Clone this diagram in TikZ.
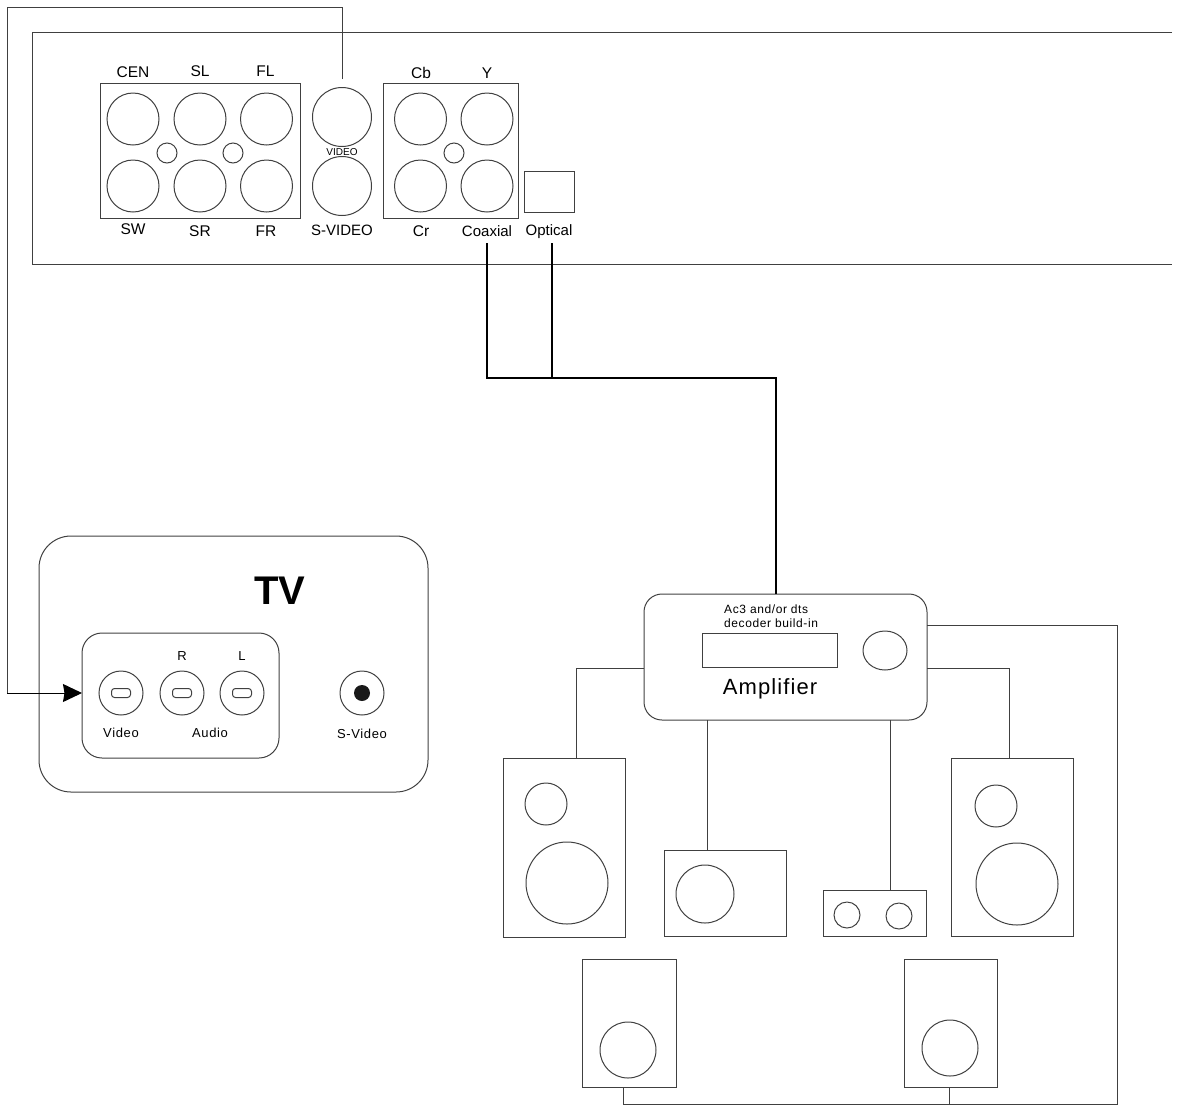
\documentclass[tikz,border=0pt]{standalone}
\usepackage{fontspec}
\setmainfont{Liberation Sans}
\newfontfamily\widefont[LetterSpace=5]{Liberation Sans}
\usetikzlibrary{arrows.meta}
\usetikzlibrary{shapes.geometric}
\tikzset{l/.style={font=\fontsize{15.5}{15.5}\selectfont,inner sep=0pt}}
\tikzset{m/.style={font=\widefont\fontsize{13}{13}\selectfont,inner sep=0pt}}
\tikzset{line/.style={line width=1pt,draw=black!75}}
\tikzset{hole/.style={line,circle,inner sep=0pt,outer sep=0pt}}
\tikzset{box/.style={line,rectangle,inner sep=0pt,outer sep=0pt}}
\tikzset{wire/.style={line width=2pt,draw=black}}

\begin{document}
\begin{tikzpicture}[x=1pt,y=-1pt]
        \useasboundingbox (0,0) rectangle (1178,1112);
        % player back panel
        \coordinate (P1) at (1172,32);
        \coordinate (P2) at (32,32);
        \coordinate (P3) at (32,264);
        \coordinate (P4) at (1172,264);
        \draw [line] (P1) -- (P2) -- (P3) -- (P4);
        \node [box,minimum width=200pt,minimum height=135pt] (A) at (200,150.5) {};
        \node [hole,minimum size=52pt] (CEN) at (133,119) {};
        \node [hole,minimum size=52pt] (SL) at (200,119) {};
        \node [hole,minimum size=52pt] (FL) at (266.5,119) {};
        \node [hole,minimum size=52pt] (SW) at (133,186) {};
        \node [hole,minimum size=52pt] (SR) at (200,186) {};
        \node [hole,minimum size=52pt] (FR) at (266.5,186) {};
        \node [hole,minimum size=20pt] (A1) at (167,153) {};
        \node [hole,minimum size=20pt] (A2) at (233,153) {};
        \node [hole,minimum size=59pt] (V) at (342,117) {};
        \node [hole,minimum size=59pt] (S) at (342,186) {};
        \node [box,minimum width=135pt,minimum height=135pt] (B) at (450.5,150.5) {};
        \node [hole,minimum size=52pt] (Cb) at (420.5,119) {};
        \node [hole,minimum size=52pt] (Y) at (487,119) {};
        \node [hole,minimum size=52pt] (Cr) at (420.5,186) {};
        \node [hole,minimum size=52pt] (Co) at (487,186) {};
        \node [hole,minimum size=20pt] (B1) at (454,153) {};
        \node [box,minimum width=50pt,minimum height=41pt] (O) at (549,191.5) {};
        \begin{scope}
          \node [l] (t1) at (133,72) {CEN};
          \node [l] (t2) at (200,71.5) {SL};
          \node [l] (t3) at (265.5,71.5) {FL};
          \node [l] (t4) at (133,229.5) {SW};
          \node [l] (t5) at (200,231) {SR};
          \node [l] (t6) at (266,231) {FR};
          \node [l] (t7) at (421,73) {Cb};
          \node [l] (t8) at (487,73) {Y};
          \node [l] (t9) at (421,231) {Cr};
          \node [l] (t10) at (342,230) {\fontsize{15}{15}\selectfont S-VIDEO};
          \node [l] (t11) at (487,231) {\fontsize{15}{15}\selectfont Coaxial};
          \node [l] (t12) at (549,231.5) {\fontsize{15}{15}\selectfont Optical};
          \node [l] (t13) at (342,152) {\fontsize{10}{10}\selectfont VIDEO};
        \end{scope}
        % tv
        \node [box,rounded corners=32pt,minimum width=389pt,minimum height=256pt] (TV) at (233.5,664) {};
        \node [box,rounded corners=20pt,minimum width=197pt,minimum height=125pt] (I) at (180.5,695.5) {};
        \node [hole,minimum size=44pt] (J1) at (121,693) {};
        \node [hole,minimum size=44pt] (J2) at (182,693) {};
        \node [hole,minimum size=44pt] (J3) at (242,693) {};
        \node [hole,minimum size=44pt] (J4) at (362,693) {};
        \node [box,rounded corners=3pt,minimum width=19pt,minimum height=9pt] at (J1) {};
        \node [box,rounded corners=3pt,minimum width=19pt,minimum height=9pt] at (J2) {};
        \node [box,rounded corners=3pt,minimum width=19pt,minimum height=9pt] at (J3) {};
        \node [circle,fill=black!90,minimum size=16pt,inner sep=0pt] at (J4) {};
        \node [font=\bfseries\fontsize{40}{40}\selectfont,inner sep=0pt] (t14) at (280,591) {TV};
        \node [m] (t15) at (182,656) {R};
        \node [m] (t16) at (242,656) {L};
        \node [m] (t17) at (121,733) {Video};
        \node [m] (t18) at (210,733) {Audio};
        \node [m] (t19) at (362,734) {S-Video};
        % amplifier
        \node [box,rounded corners=18pt,minimum width=283pt,minimum height=126pt] (Amp) at (785.5,657) {};
        \node [box,minimum width=135pt,minimum height=34pt] (D) at (769.5,650) {};
        \node [hole,ellipse,minimum width=44pt,minimum height=39pt] (K) at (885,650.5) {};
        \node [font=\widefont\fontsize{12}{13.5}\selectfont,inner sep=0pt,align=left,anchor=west] (t20) at (724,616) {Ac3 and/or dts\\decoder build-in};
        \node [font=\widefont\fontsize{22}{22}\selectfont,inner sep=0pt] (t21) at (770,689) {Amplifier};
        % speakers
        \node [box,minimum width=122pt,minimum height=179pt] (E) at (564,847.5) {};
        \node [hole,minimum size=42pt] at (546,804) {};
        \node [hole,minimum size=82pt] at (567,883) {};
        \node [box,minimum width=122pt,minimum height=86pt] (F) at (725,893) {};
        \node [hole,minimum size=58pt] at (705,894) {};
        \node [box,minimum width=103pt,minimum height=46pt] (G) at (874.5,913) {};
        \node [hole,minimum size=26pt] at (847,915) {};
        \node [hole,minimum size=26pt] at (899,916) {};
        \node [box,minimum width=122pt,minimum height=178pt] (H) at (1012,847) {};
        \node [hole,minimum size=42pt] at (996,806) {};
        \node [hole,minimum size=82pt] at (1017,884) {};
        \node [box,minimum width=94pt,minimum height=128pt] (M) at (629,1023) {};
        \node [hole,minimum size=56pt] at (628,1050) {};
        \node [box,minimum width=93pt,minimum height=128pt] (N) at (950.5,1023) {};
        \node [hole,minimum size=56pt] at (950,1048) {};
        % connections
        \coordinate (a) at (342,79);
        \coordinate (b) at (7,7);
        \coordinate (c) at (7,693);
        \draw [line] (a) |- (b) -- (c);
        \draw [line,black,-{Stealth[length=19pt,width=18pt,inset=1.5pt]}] (c) -- (c -| I.west);
        \coordinate (d) at (487,243);
        \coordinate (e) at (552,243);
        \coordinate (f) at (487,378);
        \coordinate (g) at (552,378);
        \draw [wire] (d) -- (f) -- (g) -- (e);
        \draw [wire] (g) -| (Amp.north -| 776,0);
        \draw [line] ([yshift=-11pt]Amp.west) -| ([xshift=12pt]E.north);
        \draw [line] ([yshift=-11pt]Amp.east) -| ([xshift=-3pt]H.north);
        \draw [line] ([xshift=-78.5pt]Amp.south) -- ([xshift=-18pt]F.north);
        \draw [line] ([xshift=104.5pt]Amp.south) -- ([xshift=15.5pt]G.north);
        \coordinate (h) at (1117,1104);
        \coordinate (i) at (623,1104);
        \coordinate (j) at (949,1104);
        \draw [line] ([yshift=32pt]Amp.east) -| (h) -- (i) -- ([xshift=-6pt]M.south);
        \draw [line] (j) -- ([xshift=-1.5pt]N.south);
      \end{tikzpicture}
\end{document}
